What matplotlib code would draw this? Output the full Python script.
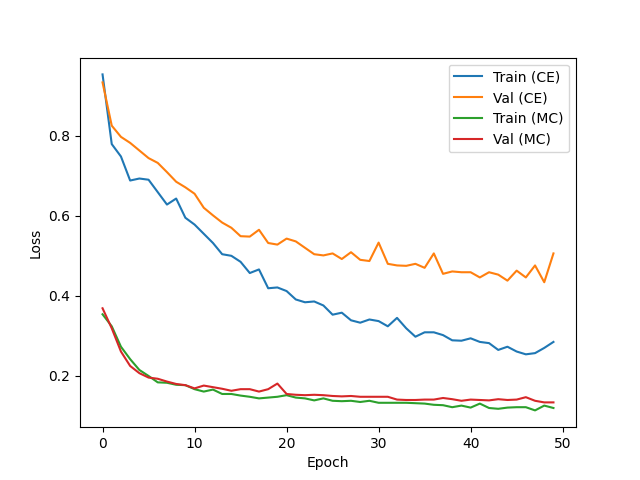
import numpy as np
import matplotlib
matplotlib.use('Agg')
import matplotlib.pyplot as plt

# loss curves, one value per epoch
train_ce = [0.953, 0.779, 0.748, 0.688, 0.693, 0.690, 0.659, 0.628, 0.643, 0.595,
            0.578, 0.555, 0.532, 0.504, 0.500, 0.485, 0.457, 0.466, 0.419, 0.421,
            0.412, 0.391, 0.384, 0.386, 0.376, 0.353, 0.358, 0.339, 0.333, 0.341,
            0.337, 0.324, 0.345, 0.319, 0.298, 0.309, 0.309, 0.302, 0.289, 0.288,
            0.294, 0.285, 0.282, 0.265, 0.273, 0.261, 0.254, 0.257, 0.270, 0.285]
val_ce = [0.933, 0.825, 0.797, 0.782, 0.763, 0.744, 0.732, 0.709, 0.685, 0.671,
          0.655, 0.620, 0.601, 0.583, 0.570, 0.549, 0.548, 0.565, 0.532, 0.528,
          0.543, 0.536, 0.520, 0.504, 0.501, 0.506, 0.492, 0.509, 0.490, 0.487,
          0.533, 0.480, 0.476, 0.475, 0.480, 0.470, 0.506, 0.455, 0.461, 0.459,
          0.459, 0.446, 0.459, 0.453, 0.438, 0.463, 0.446, 0.476, 0.434, 0.506]
train_mc = [0.354, 0.324, 0.273, 0.242, 0.215, 0.200, 0.184, 0.183, 0.178, 0.177,
            0.167, 0.161, 0.166, 0.155, 0.155, 0.151, 0.148, 0.144, 0.146, 0.148,
            0.152, 0.146, 0.144, 0.139, 0.144, 0.138, 0.137, 0.138, 0.135, 0.138,
            0.133, 0.133, 0.133, 0.133, 0.132, 0.131, 0.128, 0.127, 0.122, 0.126,
            0.121, 0.131, 0.120, 0.118, 0.121, 0.122, 0.122, 0.114, 0.126, 0.120]
val_mc = [0.369, 0.319, 0.261, 0.225, 0.207, 0.196, 0.193, 0.186, 0.180, 0.177,
          0.169, 0.176, 0.172, 0.168, 0.163, 0.167, 0.167, 0.161, 0.167, 0.181,
          0.155, 0.153, 0.152, 0.153, 0.152, 0.150, 0.149, 0.150, 0.148, 0.148,
          0.148, 0.148, 0.141, 0.140, 0.140, 0.141, 0.141, 0.145, 0.142, 0.138,
          0.141, 0.140, 0.139, 0.142, 0.140, 0.141, 0.147, 0.138, 0.134, 0.134]

epochs = np.arange(len(train_ce))

fig, ax = plt.subplots(figsize=(6.4, 4.8), dpi=100)
ax.plot(epochs, train_ce, label='Train (CE)')
ax.plot(epochs, val_ce, label='Val (CE)')
ax.plot(epochs, train_mc, label='Train (MC)')
ax.plot(epochs, val_mc, label='Val (MC)')
ax.set_xlabel('Epoch')
ax.set_ylabel('Loss')
ax.legend(loc='upper right')
fig.savefig('out.png')
